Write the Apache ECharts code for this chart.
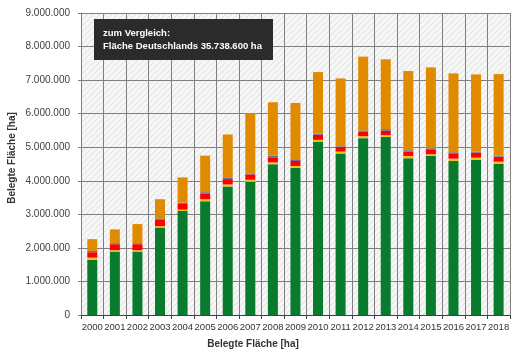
<!DOCTYPE html>
<html><head><meta charset="utf-8">
<script src="https://cdn.jsdelivr.net/npm/echarts@6/dist/echarts.min.js"></script>
<style>html,body{margin:0;padding:0;background:#fff}#c{width:512px;height:351px}</style>
</head><body><div id="c"></div>
<script>
const years = ['2000','2001','2002','2003','2004','2005','2006','2007','2008','2009','2010','2011','2012','2013','2014','2015','2016','2017','2018'];
const green  = [1640000,1890000,1890000,2610000,3100000,3390000,3830000,3970000,4490000,4380000,5160000,4810000,5270000,5310000,4670000,4740000,4590000,4630000,4510000];
const yellow = [70000,40000,40000,40000,40000,60000,60000,60000,60000,60000,60000,60000,60000,50000,70000,50000,70000,60000,60000];
const red    = [160000,180000,180000,200000,170000,160000,160000,160000,150000,150000,150000,140000,140000,130000,130000,150000,160000,150000,150000];
const blue   = [40000,30000,30000,30000,40000,50000,50000,30000,50000,30000,30000,20000,30000,50000,40000,30000,30000,30000,30000];
const orange = [350000,410000,570000,570000,750000,1090000,1280000,1790000,1590000,1700000,1840000,2020000,2200000,2080000,2360000,2410000,2350000,2300000,2430000];
const axisTitle = 'Belegte Fläche [ha]';
const noteLines = ['zum Vergleich:', 'Fläche Deutschlands 35.738.600 ha'];

function hatch(){
  const n = 6;
  const c = document.createElement('canvas'); c.width = n; c.height = n;
  const g = c.getContext('2d');
  g.fillStyle = '#f6f6f6'; g.fillRect(0,0,n,n);
  g.strokeStyle = '#e0e0e0'; g.lineWidth = 1;
  g.beginPath(); g.moveTo(0,n); g.lineTo(n,0); g.stroke();
  g.beginPath(); g.moveTo(-1,1); g.lineTo(1,-1); g.stroke();
  g.beginPath(); g.moveTo(n-1,n+1); g.lineTo(n+1,n-1); g.stroke();
  return c;
}
function de(v){ return String(v).replace(/\B(?=(\d{3})+(?!\d))/g,'.'); }

const chart = echarts.init(document.getElementById('c'), null, {renderer:'canvas'});
const mk = (name, data, color) => ({name, type:'bar', stack:'s', data, barWidth:10, itemStyle:{color}, animation:false});
chart.setOption({
  animation:false,
  grid:{left:81, top:13, width:436, height:302, show:true, backgroundColor:{image:hatch(), repeat:'repeat'}, borderWidth:0},
  xAxis:{type:'category', data:years,
    axisLine:{lineStyle:{color:'#404040', width:1}},
    axisTick:{show:true, length:4, lineStyle:{color:'#404040'}},
    axisLabel:{color:'#333', fontSize:9.5, fontFamily:'Liberation Sans', margin:7, interval:0},
    splitLine:{show:true, lineStyle:{color:'#808080', width:1}}},
  yAxis:{type:'value', min:0, max:9000000, interval:1000000,
    axisLine:{show:true, lineStyle:{color:'#808080'}},
    axisTick:{show:true, length:3, lineStyle:{color:'#808080'}},
    axisLabel:{color:'#404040', fontSize:10, fontFamily:'Liberation Sans', margin:11, formatter:v=>de(v)},
    splitLine:{show:true, lineStyle:{color:'#808080', width:1}}},
  series:[
    mk('a', green, '#0a7a2f'),
    mk('b', yellow, '#f0c020'),
    mk('c', red, '#ff0000'),
    mk('d', blue, '#6b6b99'),
    mk('e', orange, '#e08a00')
  ],
  graphic:[
    {type:'rect', shape:{x:94, y:19, width:179, height:41}, style:{fill:'#2b2b2b'}, z:100},
    {type:'text', left:103, top:28, style:{text:noteLines[0], fill:'#fff', font:'bold 9.5px "Liberation Sans"'}, z:101},
    {type:'text', left:103, top:41, style:{text:noteLines[1], fill:'#fff', font:'bold 9.5px "Liberation Sans"'}, z:101},
    {type:'text', x:253, y:344, style:{text:axisTitle, fill:'#333', font:'bold 10px "Liberation Sans"', align:'center', verticalAlign:'middle'}, z:101},
    {type:'text', x:12, y:158, rotation:Math.PI/2, style:{text:axisTitle, fill:'#333', font:'bold 10px "Liberation Sans"', align:'center', verticalAlign:'middle'}, z:101}
  ]
});
</script></body></html>
